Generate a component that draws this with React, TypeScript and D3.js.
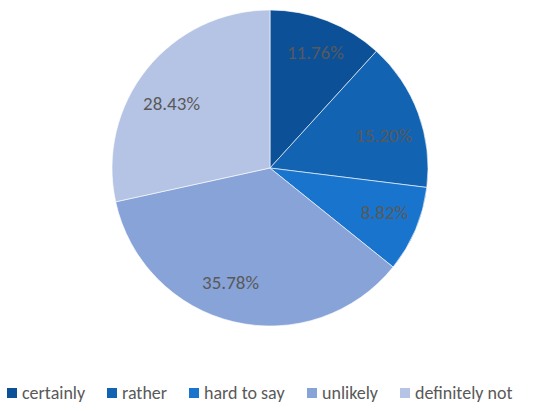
import React from "react";
import * as d3 from "d3";

const categories = ["certainly", "rather", "hard to say", "unlikely", "definitely not"];
const values = [11.76, 15.2, 8.82, 35.78, 28.43];
const labels = ["11.76%", "15.20%", "8.82%", "35.78%", "28.43%"];
const colors = ["#0C5198", "#1263B2", "#1874CC", "#87A3D8", "#B5C4E4"];

const W = 550;
const H = 411;
const cx = 270;
const cy = 168;
const R = 158;
const LR = 120;
// best-fit nudges of the data labels (px)
const labelNudgeX = [2, 1, 4, -12, -5];
const labelNudgeY = [-4, 9, -2, -2, 11];

const legendX = [7, 107, 189, 307, 400];

export default function App() {
  const pie = d3.pie<number>().sort(null).value((d) => d)(values);
  const arc = d3.arc<d3.PieArcDatum<number>>().innerRadius(0).outerRadius(R);
  const labelArc = d3.arc<d3.PieArcDatum<number>>().innerRadius(LR).outerRadius(LR);
  const font = "Carlito, Lato, 'Open Sans', sans-serif";
  return (
    <svg width={W} height={H} style={{ position: "absolute", left: 0, top: 0, background: "#fff" }}>
      <g transform={`translate(${cx},${cy})`}>
        {pie.map((p, i) => (
          <path key={i} d={arc(p) || ""} fill={colors[i]} stroke="#ffffff" strokeWidth={0.6} />
        ))}
        {pie.map((p, i) => {
          const [x, y] = labelArc.centroid(p);
          return (
            <text
              key={i}
              x={x + labelNudgeX[i]}
              y={y + labelNudgeY[i]}
              textAnchor="middle"
              dominantBaseline="central"
              fill="#595959"
              fontSize={19}
              fontFamily={font}
            >
              {labels[i]}
            </text>
          );
        })}
      </g>
      <g>
        {categories.map((c, i) => (
          <g key={c} transform={`translate(${legendX[i]},393)`}>
            <rect x={0} y={-5} width={10} height={10} fill={colors[i]} />
            <text x={15} y={0} dominantBaseline="central" fill="#595959" fontSize={18} fontFamily={font}>
              {c}
            </text>
          </g>
        ))}
      </g>
    </svg>
  );
}
